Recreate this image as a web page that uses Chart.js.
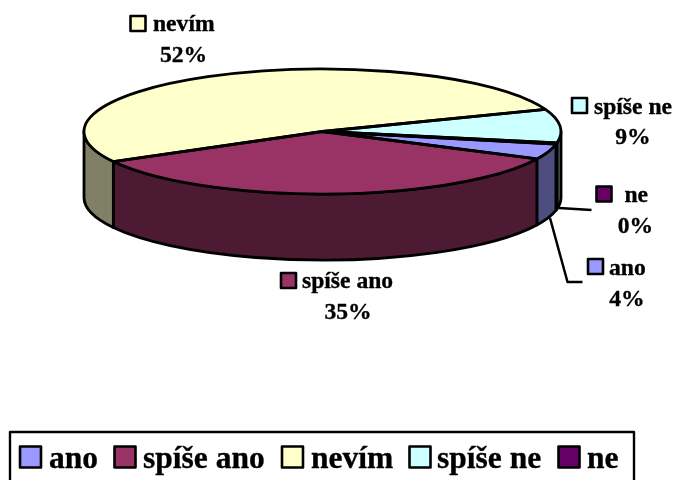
<!DOCTYPE html>
<html>
<head>
<meta charset="utf-8">
<script src="https://cdn.jsdelivr.net/npm/chart.js@4"></script>
<style>
  html, body { margin: 0; padding: 0; background: #fff; overflow: hidden; }
  canvas { display: block; }
</style>
</head>
<body>
<canvas id="pie-chart" width="673" height="480"></canvas>
<script>
var categories = ["ano", "spíše ano", "nevím", "spíše ne", "ne"];
var values = [4, 34.8, 52.2, 8.7, 0.3];
var topColors = ["#9999FF", "#993366", "#FFFFCC", "#CCFFFF", "#660066"];
var wallColors = ["#4D4D80", "#4D1A33", "#808066", "#668080", "#330033"];

// where the flat disc sits on the page
var centerX = 322.5, centerY = 131.5, radiusX = 238.5, radiusY = 62.5, depth = 66;

// label anchors: box left/top, name x, percent centre x, name baseline
var labelSpots = [
  { box: 588, boxY: 259, text: 609, pct: 627, y: 275 },
  { box: 281, boxY: 273, text: 302, pct: 348, y: 288 },
  { box: 130.5, boxY: 16, text: 153, pct: 183.5, y: 31 },
  { box: 572, boxY: 98, text: 594, pct: 633, y: 113.5 },
  { box: 596.5, boxY: 186.5, text: 624.5, pct: 635.5, y: 202 }
];
var leaders = [
  [[550, 218], [567.5, 282], [582.5, 282]],
  null,
  null,
  null,
  [[559, 208], [591.5, 210]]
];

var labelFont = "bold 23.6px 'Liberation Serif'";
var legendFont = "bold 31.5px 'Liberation Serif'";
var legendBoxes = [20, 114.5, 282, 409.5, 558.5];
var legendTexts = [49, 143, 311, 437, 587];

function drawBox(ctx, x, y, size, color) {
  ctx.fillStyle = color;
  ctx.strokeStyle = "#000";
  ctx.lineWidth = 2.6;
  ctx.fillRect(x, y, size, size);
  ctx.strokeRect(x, y, size, size);
}

function boldText(ctx, str, x, y) {
  ctx.fillText(str, x, y);
  ctx.lineWidth = 0.35;
  ctx.strokeStyle = "#000";
  ctx.strokeText(str, x, y);
}

var pie3d = {
  id: "pie3d",
  beforeDatasetsDraw: function (chart) {
    var ctx = chart.ctx;
    var arcs = chart.getDatasetMeta(0).data;
    ctx.lineWidth = 2.8;
    ctx.strokeStyle = "#000";
    ctx.lineJoin = "round";
    // the front wall is the part of each slice in the lower half of the circle
    arcs.forEach(function (arc, i) {
      var two = Math.PI * 2;
      [0, two].forEach(function (shift) {
        var a0 = Math.max(arc.startAngle - shift, 0);
        var a1 = Math.min(arc.endAngle - shift, Math.PI);
        if (a1 <= a0) return;
        ctx.beginPath();
        ctx.ellipse(centerX, centerY, radiusX, radiusY, 0, a0, a1);
        ctx.ellipse(centerX, centerY + depth, radiusX, radiusY, 0, a1, a0, true);
        ctx.closePath();
        ctx.fillStyle = wallColors[i];
        ctx.fill();
        ctx.stroke();
      });
    });
    // squash the library's round pie onto the ellipse
    ctx.save();
    ctx.translate(centerX, centerY);
    ctx.scale(1, radiusY / radiusX);
    ctx.translate(-arcs[0].x, -arcs[0].y);
  },
  afterDatasetsDraw: function (chart) {
    var ctx = chart.ctx;
    ctx.restore();
    var arcs = chart.getDatasetMeta(0).data;
    ctx.lineWidth = 2.8;
    ctx.strokeStyle = "#000";
    arcs.forEach(function (arc) {
      if (arc.endAngle <= arc.startAngle) return;
      ctx.beginPath();
      ctx.moveTo(centerX, centerY);
      ctx.ellipse(centerX, centerY, radiusX, radiusY, 0, arc.startAngle, arc.endAngle);
      ctx.closePath();
      ctx.stroke();
    });

    // leader lines
    ctx.lineWidth = 2.5;
    leaders.forEach(function (pts) {
      if (!pts) return;
      ctx.beginPath();
      pts.forEach(function (p, i) {
        if (i === 0) ctx.moveTo(p[0], p[1]); else ctx.lineTo(p[0], p[1]);
      });
      ctx.stroke();
    });

    // data labels
    var total = values.reduce(function (a, b) { return a + b; }, 0);
    ctx.textBaseline = "alphabetic";
    ctx.font = labelFont;
    categories.forEach(function (name, i) {
      var s = labelSpots[i];
      drawBox(ctx, s.box, s.boxY, 15, topColors[i]);
      ctx.fillStyle = "#000";
      ctx.textAlign = "left";
      boldText(ctx, name, s.text, s.y);
      ctx.textAlign = "center";
      boldText(ctx, Math.round(values[i] / total * 100) + "%", s.pct, s.y + 30.7);
    });

    // legend frame runs off the bottom of the page
    ctx.lineWidth = 2.4;
    ctx.strokeStyle = "#000";
    ctx.strokeRect(10, 432, 624, 60);
    ctx.font = legendFont;
    ctx.textAlign = "left";
    categories.forEach(function (name, i) {
      drawBox(ctx, legendBoxes[i], 446.5, 21, topColors[i]);
      ctx.fillStyle = "#000";
      boldText(ctx, name, legendTexts[i], 468);
    });
  }
};

new Chart(document.getElementById("pie-chart"), {
  type: "pie",
  data: {
    labels: categories,
    datasets: [{
      data: values,
      backgroundColor: topColors,
      borderWidth: 0
    }]
  },
  options: {
    responsive: false,
    animation: false,
    rotation: 101.6,
    radius: radiusX,
    plugins: {
      legend: { display: false },
      tooltip: { enabled: false }
    }
  },
  plugins: [pie3d]
});
</script>
</body>
</html>
